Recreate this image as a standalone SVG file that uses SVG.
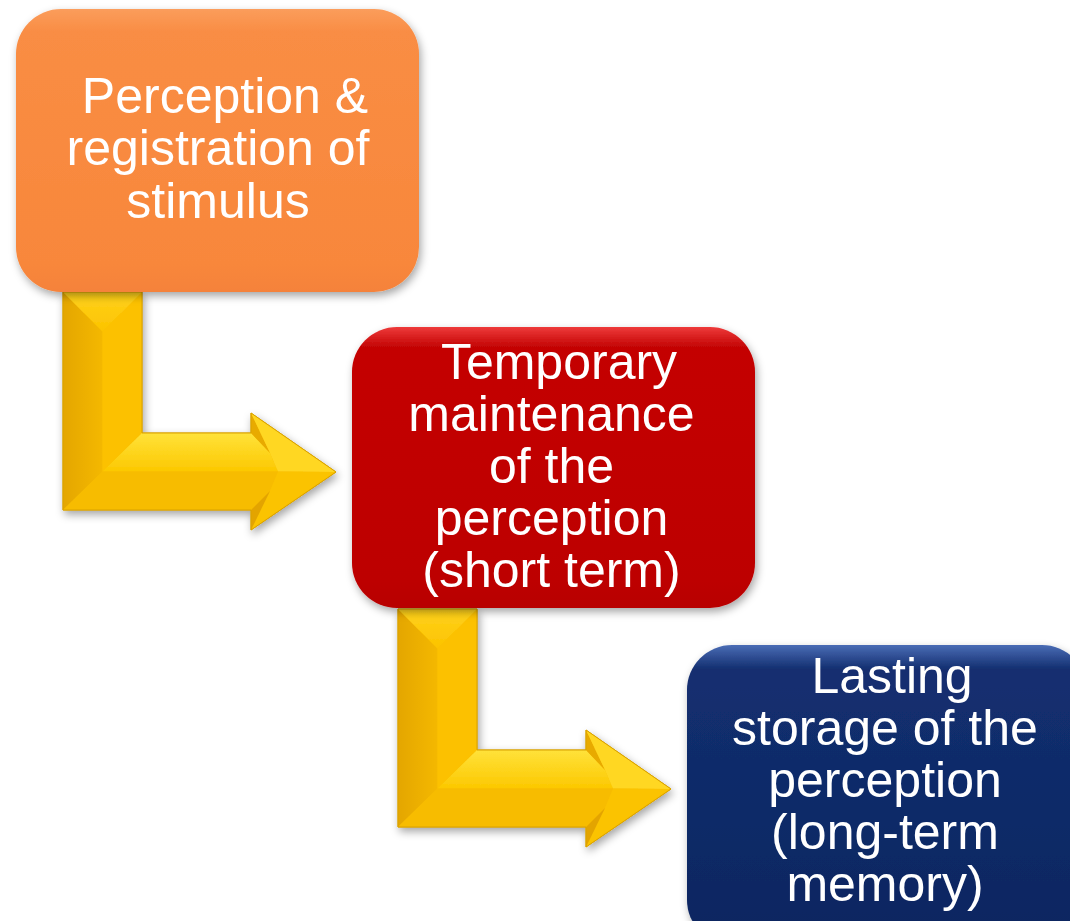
<svg xmlns="http://www.w3.org/2000/svg" xmlns:xlink="http://www.w3.org/1999/xlink" width="1070" height="921" viewBox="0 0 1070 921">
<defs>
<style>
.lbl{font-family:"Liberation Sans",Arial,sans-serif;font-size:50px;fill:#ffffff;text-anchor:middle}
</style>
<filter id="sh" x="-10%" y="-10%" width="125%" height="125%">
<feDropShadow dx="2" dy="4" stdDeviation="4" flood-color="#000" flood-opacity="0.35"/>
</filter>
<linearGradient id="gOr" x1="0" y1="0" x2="0" y2="1">
<stop offset="0" stop-color="#fb9d5c"/>
<stop offset="0.08" stop-color="#f98d44"/>
<stop offset="0.9" stop-color="#f8873b"/>
<stop offset="1" stop-color="#f5823a"/>
</linearGradient>
<linearGradient id="gRd" x1="0" y1="0" x2="0" y2="1">
<stop offset="0" stop-color="#ee3a3a"/>
<stop offset="0.07" stop-color="#c40606"/>
<stop offset="0.9" stop-color="#bd0000"/>
<stop offset="1" stop-color="#b80000"/>
</linearGradient>
<linearGradient id="gBl" x1="0" y1="0" x2="0" y2="1">
<stop offset="0" stop-color="#4a6cb5"/>
<stop offset="0.08" stop-color="#132f70"/>
<stop offset="1" stop-color="#0c2660"/>
</linearGradient>
<linearGradient id="gVL" x1="0" y1="0" x2="1" y2="0">
<stop offset="0" stop-color="#e4a600"/>
<stop offset="1" stop-color="#f4b800"/>
</linearGradient>
<linearGradient id="gTop" x1="0" y1="0" x2="0" y2="1">
<stop offset="0" stop-color="#ffe23a"/>
<stop offset="1" stop-color="#fcc800"/>
</linearGradient>
<linearGradient id="gTri" x1="0" y1="0" x2="0" y2="1">
<stop offset="0" stop-color="#ffd21c"/>
<stop offset="1" stop-color="#fcc300"/>
</linearGradient>
<g id="arrow">
<path d="M0,0 L79,0 L79,141 L188,141 L188,121 L273,180 L188,238 L188,218 L0,218 Z" fill="#f8bd00" stroke="#d9a200" stroke-width="1"/>
<polygon points="0,0 39.5,39.5 39.5,179.5 0,218" fill="url(#gVL)"/>
<polygon points="79,0 39.5,39.5 39.5,179.5 79,141" fill="#fcc100"/>
<polygon points="0,0 79,0 39.5,39.5" fill="url(#gTri)"/>
<polygon points="79,141 188,141 207,161 215,179.5 39.5,179.5" fill="url(#gTop)"/>
<polygon points="0,218 39.5,179.5 215,179.5 207,199 188,218" fill="#f7bc00"/>
<polygon points="188,121 188,141 207,161" fill="#e8aa00"/>
<polygon points="188,121 273,180 215,179.5 207,161" fill="#ffd724"/>
<polygon points="188,238 273,180 215,179.5 207,199" fill="#fbc300"/>
<polygon points="188,238 188,218 207,199" fill="#e3a400"/>
<path d="M0,0 L79,0 L79,141 L188,141 L188,121 L273,180 L188,238 L188,218 L0,218 Z" fill="none" stroke="#d9a200" stroke-width="1"/>
</g>
</defs>
<rect width="1070" height="921" fill="#ffffff"/>
<g id="connectors">
<use xlink:href="#arrow" transform="translate(63,292)" filter="url(#sh)"/>
<use xlink:href="#arrow" transform="translate(398,609)" filter="url(#sh)"/>
</g>
<g id="node-perception">
<rect x="16" y="9" width="403" height="283" rx="45" ry="45" fill="url(#gOr)" filter="url(#sh)"/>
<text class="lbl" x="225" y="113">Perception &amp;</text>
<text class="lbl" x="218" y="165">registration of</text>
<text class="lbl" x="218" y="218">stimulus</text>
</g>
<g id="node-temporary">
<rect x="352" y="327" width="403" height="281" rx="45" ry="45" fill="url(#gRd)" filter="url(#sh)"/>
<text class="lbl" x="559" y="379">Temporary</text>
<text class="lbl" x="551.5" y="431">maintenance</text>
<text class="lbl" x="551.5" y="483">of the</text>
<text class="lbl" x="551.5" y="535">perception</text>
<text class="lbl" x="551.5" y="587">(short term)</text>
</g>
<g id="node-lasting">
<rect x="687" y="645" width="400" height="300" rx="45" ry="45" fill="url(#gBl)" filter="url(#sh)"/>
<text class="lbl" x="892" y="693">Lasting</text>
<text class="lbl" x="885" y="745">storage of the</text>
<text class="lbl" x="885" y="797">perception</text>
<text class="lbl" x="885" y="849">(long-term</text>
<text class="lbl" x="885" y="901">memory)</text>
</g>
</svg>
